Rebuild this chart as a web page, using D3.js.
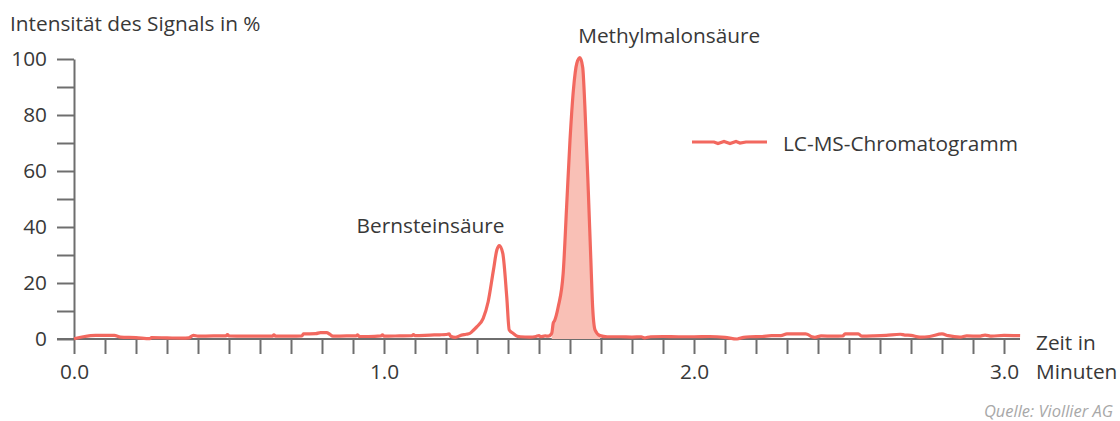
<!DOCTYPE html>
<html>
<head>
<meta charset="utf-8">
<script src="https://cdn.jsdelivr.net/npm/d3@7"></script>
<style>
  body { margin: 0; background: #fff; }
  svg text { font-family: "Open Sans", sans-serif; fill: #383838; }
</style>
</head>
<body>
<div id="chart"></div>
<script>
// Data (time in minutes, signal in %)
const timeMin = [
  0.00, 0.03, 0.07, 0.13, 0.15, 0.20, 0.245, 0.25, 0.30, 0.35, 0.37, 0.385, 0.40, 0.45, 0.49, 0.495,
  0.50, 0.55, 0.60, 0.64, 0.645, 0.65, 0.70, 0.735, 0.74, 0.78, 0.795, 0.815, 0.825, 0.835, 0.88,
  0.91, 0.915, 0.92, 0.95, 0.99, 0.995, 1.00, 1.05, 1.09, 1.095, 1.10, 1.15, 1.18, 1.20, 1.21, 1.215,
  1.23, 1.25, 1.265, 1.277, 1.29, 1.30, 1.32, 1.336, 1.353, 1.364, 1.372, 1.383, 1.396, 1.404, 1.417,
  1.43, 1.44, 1.47, 1.49, 1.50, 1.505, 1.52, 1.53, 1.541, 1.546, 1.55, 1.562, 1.578, 1.589, 1.600,
  1.611, 1.622, 1.632, 1.641, 1.648, 1.659, 1.667, 1.673, 1.681, 1.697, 1.72, 1.76, 1.80, 1.83, 1.84,
  1.86, 1.90, 1.95, 2.00, 2.05, 2.10, 2.139, 2.16, 2.181, 2.22, 2.25, 2.28, 2.30, 2.36, 2.365, 2.38,
  2.39, 2.41, 2.45, 2.48, 2.487, 2.53, 2.542, 2.58, 2.62, 2.665, 2.68, 2.70, 2.729, 2.76, 2.80, 2.82,
  2.858, 2.88, 2.92, 2.939, 2.96, 3.00, 3.052
];
const signalPct = [
  0.1, 0.8, 1.3, 1.3, 0.7, 0.5, 0.1, 0.5, 0.4, 0.3, 0.4, 1.3, 1.0, 1.1, 1.1, 1.6,
  1.1, 1.0, 1.0, 1.0, 1.5, 1.0, 1.0, 1.1, 1.8, 1.9, 2.3, 2.3, 1.7, 1.0, 1.1,
  1.1, 1.5, 0.9, 0.9, 1.1, 1.5, 1.0, 1.1, 1.2, 1.6, 1.2, 1.4, 1.5, 1.6, 1.8, 1.0,
  0.6, 1.4, 1.7, 2.0, 3.3, 4.4, 7.4, 13.3, 24.6, 31.8, 33.4, 30.7, 15, 3.2, 2.0,
  1.0, 0.8, 0.7, 0.9, 1.2, 0.8, 1.1, 1.0, 2.0, 5.7, 6.5, 11.5, 23.5, 47, 71,
  89, 98.5, 100.5, 97, 83, 53, 29, 11.5, 3.2, 1.2, 0.8, 0.8, 0.7, 0.8, 0.4,
  0.8, 0.9, 0.8, 0.8, 0.9, 0.6, 0.0, 0.6, 0.8, 0.9, 1.2, 1.2, 1.8, 1.8, 1.7, 0.8,
  0.6, 1.1, 1.0, 1.1, 1.8, 1.8, 1.0, 1.1, 1.3, 1.7, 1.4, 1.3, 0.7, 0.9, 1.8, 1.2,
  0.7, 1.1, 1.0, 1.4, 1.0, 1.3, 1.2
];
const shadedRange = [1.541, 1.697];   // Methylmalonsäure peak
const peakLabels = ["Bernsteinsäure", "Methylmalonsäure"];
const peakLabelTime = [1.15, 1.92];
const peakLabelPct = [37.9, 105.7];
const xTickLabels = [0, 1, 2, 3];
const yTickLabels = [0, 20, 40, 60, 80, 100];
const seriesName = "LC-MS-Chromatogramm";

const data = timeMin.map((t, i) => ({ t: t, v: signalPct[i] }));

const W = 1120, H = 421;
const lineColor = "#f2685f", fillColor = "#f9c0b6", axisColor = "#6e6e6e";
const fs = "20.8px";

const svg = d3.select("#chart").append("svg")
  .attr("width", W).attr("height", H);

const x = d3.scaleLinear().domain([0, 3.05]).range([74, 74 + 310 * 3.05]);
const y = d3.scaleLinear().domain([0, 100]).range([339, 59]);

// Y axis
const yAxis = d3.axisLeft(y)
  .tickValues(d3.range(0, 101, 10))
  .tickSize(17).tickSizeOuter(0).tickPadding(10)
  .tickFormat(d => yTickLabels.includes(d) ? d : "");
const gy = svg.append("g").attr("transform", "translate(74,0)").call(yAxis);

// X axis
const xAxis = d3.axisBottom(x)
  .tickValues(d3.range(0, 31).map(i => i / 10))
  .tickSize(15).tickSizeOuter(0).tickPadding(10)
  .tickFormat(d => xTickLabels.some(v => Math.abs(v - d) < 1e-9) ? d3.format(".1f")(d) : "");
const gx = svg.append("g").attr("transform", "translate(0,339)").call(xAxis);

[gx, gy].forEach(g => {
  g.select(".domain").attr("stroke", axisColor).attr("stroke-width", 2);
  g.selectAll(".tick line").attr("stroke", axisColor).attr("stroke-width", 2);
  g.selectAll(".tick text").attr("fill", "#383838")
    .style("font-family", "'Open Sans', sans-serif").style("font-size", fs);
});
gx.select(".domain").attr("d", "M57,0H1020");

// Shaded area under the Methylmalonsäure peak
const shaded = data.filter(d => d.t >= shadedRange[0] && d.t <= shadedRange[1]);
svg.append("path")
  .datum(shaded)
  .attr("fill", fillColor)
  .attr("d", d3.area().curve(d3.curveMonotoneX)
    .x(d => x(d.t)).y0(y(0)).y1(d => y(d.v)));

// Chromatogram line
svg.append("path")
  .datum(data)
  .attr("fill", "none")
  .attr("stroke", lineColor)
  .attr("stroke-width", 3.2)
  .attr("stroke-linejoin", "round")
  .attr("d", d3.line().curve(d3.curveMonotoneX).x(d => x(d.t)).y(d => y(d.v)));

// Peak labels
svg.selectAll(".peak").data(peakLabels).join("text")
  .attr("class", "peak")
  .attr("x", (d, i) => x(peakLabelTime[i]))
  .attr("y", (d, i) => y(peakLabelPct[i]))
  .attr("text-anchor", "middle")
  .style("font-size", fs)
  .text(d => d);

// Legend
const lg = svg.append("g").attr("transform", "translate(692,142)");
lg.append("path")
  .attr("d", "M0,0 L22,0 L26,1.5 L32,-0.5 L38,1.5 L44,-0.5 L48,1 L54,0 L75,0")
  .attr("fill", "none").attr("stroke", lineColor).attr("stroke-width", 3.2);
lg.append("text").attr("x", 91).attr("y", 9).style("font-size", fs).text(seriesName);

// Titles
svg.append("text").attr("x", 10).attr("y", 31).style("font-size", fs)
  .text("Intensität des Signals in %");
svg.append("text").attr("x", 1036).attr("y", 350).style("font-size", fs).text("Zeit in");
svg.append("text").attr("x", 1036).attr("y", 379).style("font-size", fs).text("Minuten");
svg.append("text").attr("x", 1113).attr("y", 417).attr("text-anchor", "end")
  .style("font-size", "16.5px").style("font-style", "italic").style("fill", "#a8a8a8")
  .text("Quelle: Viollier AG");
</script>
</body>
</html>
